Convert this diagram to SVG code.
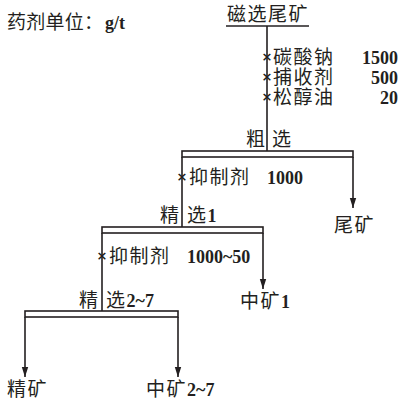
<svg xmlns="http://www.w3.org/2000/svg" width="402" height="401" viewBox="0 0 402 401">
<defs>
<style>
text{font-family:"Liberation Serif","Noto Sans CJK SC",serif;font-size:19px;letter-spacing:1.5px;fill:#231f20}
.b{font-weight:bold;font-size:18px;letter-spacing:0}
.x{font-family:"DejaVu Sans",sans-serif;font-size:13px;font-weight:bold;letter-spacing:0;text-anchor:middle}
.e{text-anchor:end}
.ln{stroke:#231f20;stroke-width:1.6;fill:none}
.bar{stroke:#231f20;stroke-width:1.6;fill:#fff}
</style>
<marker id="ah" markerUnits="userSpaceOnUse" markerWidth="10" markerHeight="15" refX="14" refY="4.5" orient="auto" viewBox="0 0 14 9">
<path d="M0,0 L14,4.5 L0,9 Z" fill="#231f20"/>
</marker>
</defs>
<g id="legend"><text x="7" y="29" textLength="96" lengthAdjust="spacing" style="letter-spacing:0">药剂单位：</text><text class="b" x="105" y="29">g/t</text></g>
<g id="connectors">
<line class="ln" x1="226" y1="26" x2="309" y2="26"/>
<line class="ln" x1="267" y1="26" x2="267" y2="151"/>
<line class="ln" x1="182" y1="157" x2="182" y2="227"/>
<line class="ln" x1="353" y1="157" x2="353" y2="208" marker-end="url(#ah)"/>
<line class="ln" x1="102" y1="233" x2="102" y2="311"/>
<line class="ln" x1="263" y1="233" x2="263" y2="289" marker-end="url(#ah)"/>
<line class="ln" x1="25" y1="317" x2="25" y2="377" marker-end="url(#ah)"/>
<line class="ln" x1="178" y1="317" x2="178" y2="377" marker-end="url(#ah)"/>
</g>
<g id="feed"><text x="227" y="21">磁选尾矿</text></g>
<g id="reagents1">
<text class="x" x="267" y="61">×</text><text x="273" y="64">碳酸钠</text><text class="b e" x="398" y="64">1500</text>
<text class="x" x="267" y="81">×</text><text x="273" y="84">捕收剂</text><text class="b e" x="398" y="84">500</text>
<text class="x" x="267" y="101">×</text><text x="273" y="104">松醇油</text><text class="b e" x="398" y="104">20</text>
</g>
<g id="rougher">
<rect class="bar" x="182" y="151" width="171" height="6"/>
<text x="246" y="146">粗</text><text x="272" y="146">选</text>
</g>
<g id="reagents2"><text class="x" x="182" y="181">×</text><text x="189" y="184">抑制剂</text><text class="b" x="267" y="184">1000</text></g>
<g id="tailings"><text x="334" y="232">尾矿</text></g>
<g id="cleaner1">
<rect class="bar" x="102" y="227" width="161" height="6"/>
<text x="160" y="222">精</text><text x="187" y="222">选<tspan class="b">1</tspan></text>
</g>
<g id="reagents3"><text class="x" x="102" y="260">×</text><text x="109" y="263">抑制剂</text><text class="b" x="187" y="263">1000~50</text></g>
<g id="middling1"><text x="240" y="308">中矿<tspan class="b">1</tspan></text></g>
<g id="cleaner2">
<rect class="bar" x="25" y="311" width="153" height="6"/>
<text x="79" y="307">精</text><text x="106" y="307">选<tspan class="b">2~7</tspan></text>
</g>
<g id="concentrate"><text x="7" y="396">精矿</text></g>
<g id="middling2"><text x="146" y="396">中矿<tspan class="b">2~7</tspan></text></g>
</svg>
